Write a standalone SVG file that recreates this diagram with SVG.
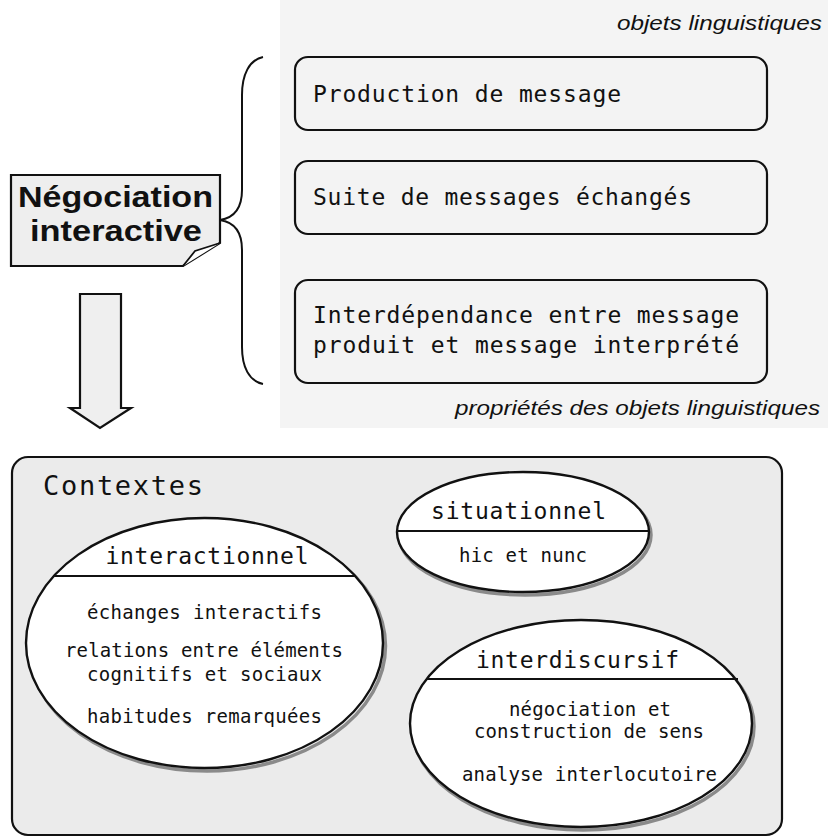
<svg xmlns="http://www.w3.org/2000/svg" width="828" height="838" viewBox="0 0 828 838">
<defs>
<style>
.mono{font-family:"DejaVu Sans Mono","Liberation Mono",monospace;fill:#111;}
.it{font-family:"Liberation Sans",Arial,sans-serif;font-style:italic;font-size:21px;fill:#111;}
.bold{font-family:"Liberation Sans",Arial,sans-serif;font-weight:bold;font-size:30px;fill:#111;}
.box{fill:#f3f3f3;stroke:#111;stroke-width:2.2;}
.ell{fill:#fff;stroke:#111;stroke-width:2.4;}
.shadow{fill:none;stroke:#8a8a8a;stroke-width:3.5;}
.line{stroke:#111;stroke-width:2;fill:none;}
.t23{font-size:23px;}
.t19{font-size:19px;}
</style>
</defs>
<rect x="0" y="0" width="828" height="838" fill="#fff"/>
<rect x="280" y="0" width="548" height="428" fill="#f4f4f4"/>

<g id="label-objets">
<text class="it" x="617" y="30" textLength="205" lengthAdjust="spacingAndGlyphs">objets linguistiques</text>
</g>
<g id="label-proprietes">
<text class="it" x="455" y="415" textLength="365" lengthAdjust="spacingAndGlyphs">propriétés des objets linguistiques</text>
</g>

<g id="negociation">
<path d="M11,175 H220 V243 L183,266 H11 Z" fill="#eeeeee" stroke="#111" stroke-width="2.2"/>
<path d="M220,243 L195,251 L183,266" fill="#fff" stroke="#111" stroke-width="1.8"/>
<text class="bold" x="18" y="207" textLength="195" lengthAdjust="spacingAndGlyphs">Négociation</text>
<text class="bold" x="30" y="241" textLength="172" lengthAdjust="spacingAndGlyphs">interactive</text>
</g>

<g id="production">
<rect class="box" x="295" y="57" width="472" height="73" rx="13"/>
<text class="mono t23" x="313" y="102" textLength="308" lengthAdjust="spacing">Production de message</text>
</g>
<g id="suite">
<rect class="box" x="295" y="161" width="472" height="73" rx="13"/>
<text class="mono t23" x="313" y="205" textLength="379" lengthAdjust="spacing">Suite de messages échangés</text>
</g>
<g id="interdependance">
<rect class="box" x="295" y="280" width="472" height="103" rx="13"/>
<text class="mono t23" x="313" y="323" textLength="426" lengthAdjust="spacing">Interdépendance entre message</text>
<text class="mono t23" x="313" y="353" textLength="426" lengthAdjust="spacing">produit et message interprété</text>
</g>

<g id="connectors">
<path class="line" stroke-width="2.6" d="M263,57 C249,60 242,75 242,95 L242,190 C242,209 233,218 220,220 C233,222 242,231 242,250 L242,347 C242,367 249,381 263,384"/>
<path d="M80,294 H121 V408 H131 L100,428 L70,408 H80 Z" fill="#efefef" stroke="#111" stroke-width="2.2" stroke-linejoin="miter"/>
</g>

<g id="contextes">
<rect x="12" y="457" width="770" height="378" rx="16" fill="#ebebeb" stroke="#111" stroke-width="2.2"/>
<text class="mono" font-size="27" x="43" y="495" textLength="160" lengthAdjust="spacing">Contextes</text>
</g>

<g id="interactionnel">
<ellipse class="shadow" cx="207" cy="646" rx="178.5" ry="125"/>
<ellipse class="ell" cx="204.5" cy="643" rx="178.5" ry="125"/>
<line class="line" x1="53" y1="576" x2="356" y2="576"/>
<text class="mono t23" x="207" y="564" text-anchor="middle" textLength="203" lengthAdjust="spacing">interactionnel</text>
<text class="mono t19" x="204.5" y="619" text-anchor="middle" textLength="235" lengthAdjust="spacing">échanges interactifs</text>
<text class="mono t19" x="204" y="657" text-anchor="middle" textLength="278" lengthAdjust="spacing">relations entre éléments</text>
<text class="mono t19" x="204.5" y="681" text-anchor="middle" textLength="235" lengthAdjust="spacing">cognitifs et sociaux</text>
<text class="mono t19" x="204.5" y="723" text-anchor="middle" textLength="235" lengthAdjust="spacing">habitudes remarquées</text>
</g>

<g id="situationnel">
<ellipse class="shadow" cx="525" cy="535" rx="126" ry="60"/>
<ellipse class="ell" cx="523" cy="532" rx="126" ry="60"/>
<line class="line" x1="397" y1="531" x2="649" y2="531"/>
<text class="mono t23" x="518.5" y="519" text-anchor="middle" textLength="175" lengthAdjust="spacing">situationnel</text>
<text class="mono t19" x="523" y="562" text-anchor="middle" textLength="128" lengthAdjust="spacing">hic et nunc</text>
</g>

<g id="interdiscursif">
<ellipse class="shadow" cx="583" cy="726.5" rx="171" ry="103.5"/>
<ellipse class="ell" cx="581" cy="723.5" rx="171" ry="103.5"/>
<line class="line" x1="426" y1="679" x2="738" y2="679"/>
<text class="mono t23" x="577.5" y="668" text-anchor="middle" textLength="203" lengthAdjust="spacing">interdiscursif</text>
<text class="mono t19" x="590" y="716" text-anchor="middle" textLength="162" lengthAdjust="spacing">négociation et</text>
<text class="mono t19" x="589" y="738" text-anchor="middle" textLength="230" lengthAdjust="spacing">construction de sens</text>
<text class="mono t19" x="589.5" y="781" text-anchor="middle" textLength="255" lengthAdjust="spacing">analyse interlocutoire</text>
</g>
</svg>
